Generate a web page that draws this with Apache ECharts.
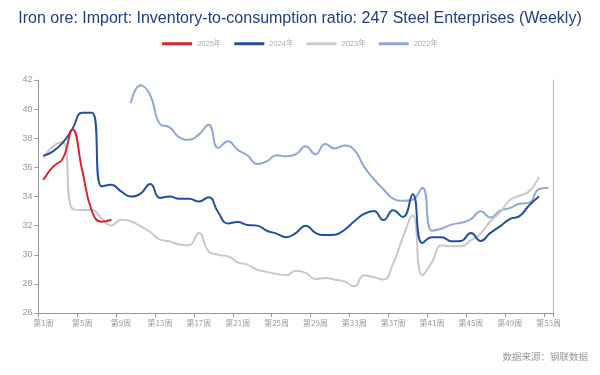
<!DOCTYPE html>
<html>
<head>
<meta charset="utf-8">
<script src="https://cdn.jsdelivr.net/npm/echarts@6/dist/echarts.min.js"></script>
<style>html,body{margin:0;padding:0;background:#fff}#c{width:600px;height:375px}</style>
</head>
<body>
<div id="c"></div>
<script>
var weeks = ['第1周','第2周','第3周','第4周','第5周','第6周','第7周','第8周','第9周','第10周',
  '第11周','第12周','第13周','第14周','第15周','第16周','第17周','第18周','第19周','第20周',
  '第21周','第22周','第23周','第24周','第25周','第26周','第27周','第28周','第29周','第30周',
  '第31周','第32周','第33周','第34周','第35周','第36周','第37周','第38周','第39周','第40周',
  '第41周','第42周','第43周','第44周','第45周','第46周','第47周','第48周','第49周','第50周',
  '第51周','第52周','第53周'];

var y2025 = [35.15, 36.05, 36.6, 38.6, 35.8, 33.0, 32.27, 32.4];

var y2024 = [36.8, 37.1, 37.7, 38.65, 39.75, 39.75, 34.7, 34.8, 34.35, 34.0,
  34.2, 34.85, 33.9, 34.0, 33.85, 33.85, 33.65, 33.95, 32.9, 32.15,
  32.25, 32.05, 32.0, 31.65, 31.45, 31.2, 31.5, 32.0, 31.5, 31.35,
  31.38, 31.72, 32.3, 32.8, 33.0, 32.38, 33.05, 32.6, 34.15, 30.8,
  31.2, 31.2, 30.92, 30.95, 31.5, 30.95, 31.5, 31.95, 32.45, 32.65,
  33.4, 34.0];

var y2023 = [36.65, 37.45, 37.72, 33.15, 33.07, 33.07, 32.5, 32.0, 32.4, 32.3,
  31.95, 31.56, 31.04, 30.92, 30.7, 30.65, 31.5, 30.24, 30.0, 29.9,
  29.48, 29.32, 28.98, 28.82, 28.68, 28.59, 28.9, 28.75, 28.33, 28.4,
  28.29, 28.17, 27.83, 28.59, 28.45, 28.3, 29.4, 31.2, 32.7, 28.6,
  29.5, 30.65, 30.58, 30.58, 31.0, 31.45, 32.3, 32.9, 33.75, 34.05,
  34.36, 35.35];

var y2022 = [null, null, null, null, null, null, null, null, null, 40.42,
  41.64, 40.95, 38.98, 38.75, 38.06, 37.9, 38.25, 38.93, 37.33, 37.79,
  37.2, 36.83, 36.23, 36.42, 36.83, 36.76, 36.9, 37.45, 36.9, 37.6,
  37.3, 37.5, 37.2, 36.05, 35.2, 34.5, 33.85, 33.7, 33.78, 34.6,
  31.65, 31.8, 32.07, 32.2, 32.45, 32.98, 32.55, 33.03, 33.2, 33.5,
  33.58, 34.5, 34.6];

var seriesNames = ['2025年', '2024年', '2023年', '2022年'];
var seriesData = [y2025, y2024, y2023, y2022];
var colors = ['#d7262b', '#22509f', '#c9c9c9', '#90a9d4'];

var chart = echarts.init(document.getElementById('c'), null, {renderer: 'canvas'});
var series = seriesNames.map(function (n, i) {
  return {
    name: n,
    type: 'line',
    data: seriesData[i],
    smooth: true,
    showSymbol: false,
    symbol: 'none',
    connectNulls: false,
    z: 10 - i,
    lineStyle: {width: 2, color: colors[i]},
    itemStyle: {color: colors[i]}
  };
});

chart.setOption({
  animation: false,
  backgroundColor: '#fff',
  title: {
    text: 'Iron ore: Import: Inventory-to-consumption ratio: 247 Steel Enterprises (Weekly)',
    left: 'center',
    top: 6,
    textStyle: {fontFamily: 'Liberation Sans, Arial, sans-serif', fontSize: 16, fontWeight: 'normal', color: '#1f3c86'}
  },
  legend: {
    top: 35,
    left: 'center',
    icon: 'rect',
    itemWidth: 30,
    itemHeight: 3,
    itemGap: 13,
    textStyle: {fontSize: 7.5, color: '#aaa', fontFamily: 'Liberation Sans, Noto Sans CJK SC, sans-serif'},
    data: seriesNames
  },
  grid: {left: 38.5, right: 46.5, top: 80, bottom: 62, containLabel: false},
  xAxis: {
    type: 'category',
    data: weeks,
    boundaryGap: true,
    axisLine: {show: true, lineStyle: {color: '#999'}},
    axisTick: {show: true, interval: 3, length: 4, lineStyle: {color: '#999'}},
    axisLabel: {interval: 3, fontSize: 8, color: '#999', margin: 6, fontFamily: 'Noto Sans CJK SC, sans-serif'},
    splitLine: {show: false}
  },
  yAxis: [{
    type: 'value',
    min: 26,
    max: 42,
    interval: 2,
    axisLine: {show: true, lineStyle: {color: '#999'}},
    axisTick: {show: true, length: 4, lineStyle: {color: '#999'}},
    axisLabel: {fontSize: 9, color: '#999', margin: 6, fontFamily: 'Liberation Sans, Arial, sans-serif'},
    splitLine: {show: false}
  }, {
    type: 'value',
    position: 'right',
    min: 26,
    max: 42,
    interval: 2,
    axisLine: {show: true, lineStyle: {color: '#bbb'}},
    axisTick: {show: false},
    axisLabel: {show: false},
    splitLine: {show: false}
  }],
  graphic: [{
    type: 'text',
    right: 12,
    top: 352,
    style: {text: '数据来源：钢联数据', fontSize: 9.5, fill: '#999', fontFamily: 'Noto Sans CJK SC, sans-serif'}
  }],
  series: series
});
</script>
</body>
</html>
